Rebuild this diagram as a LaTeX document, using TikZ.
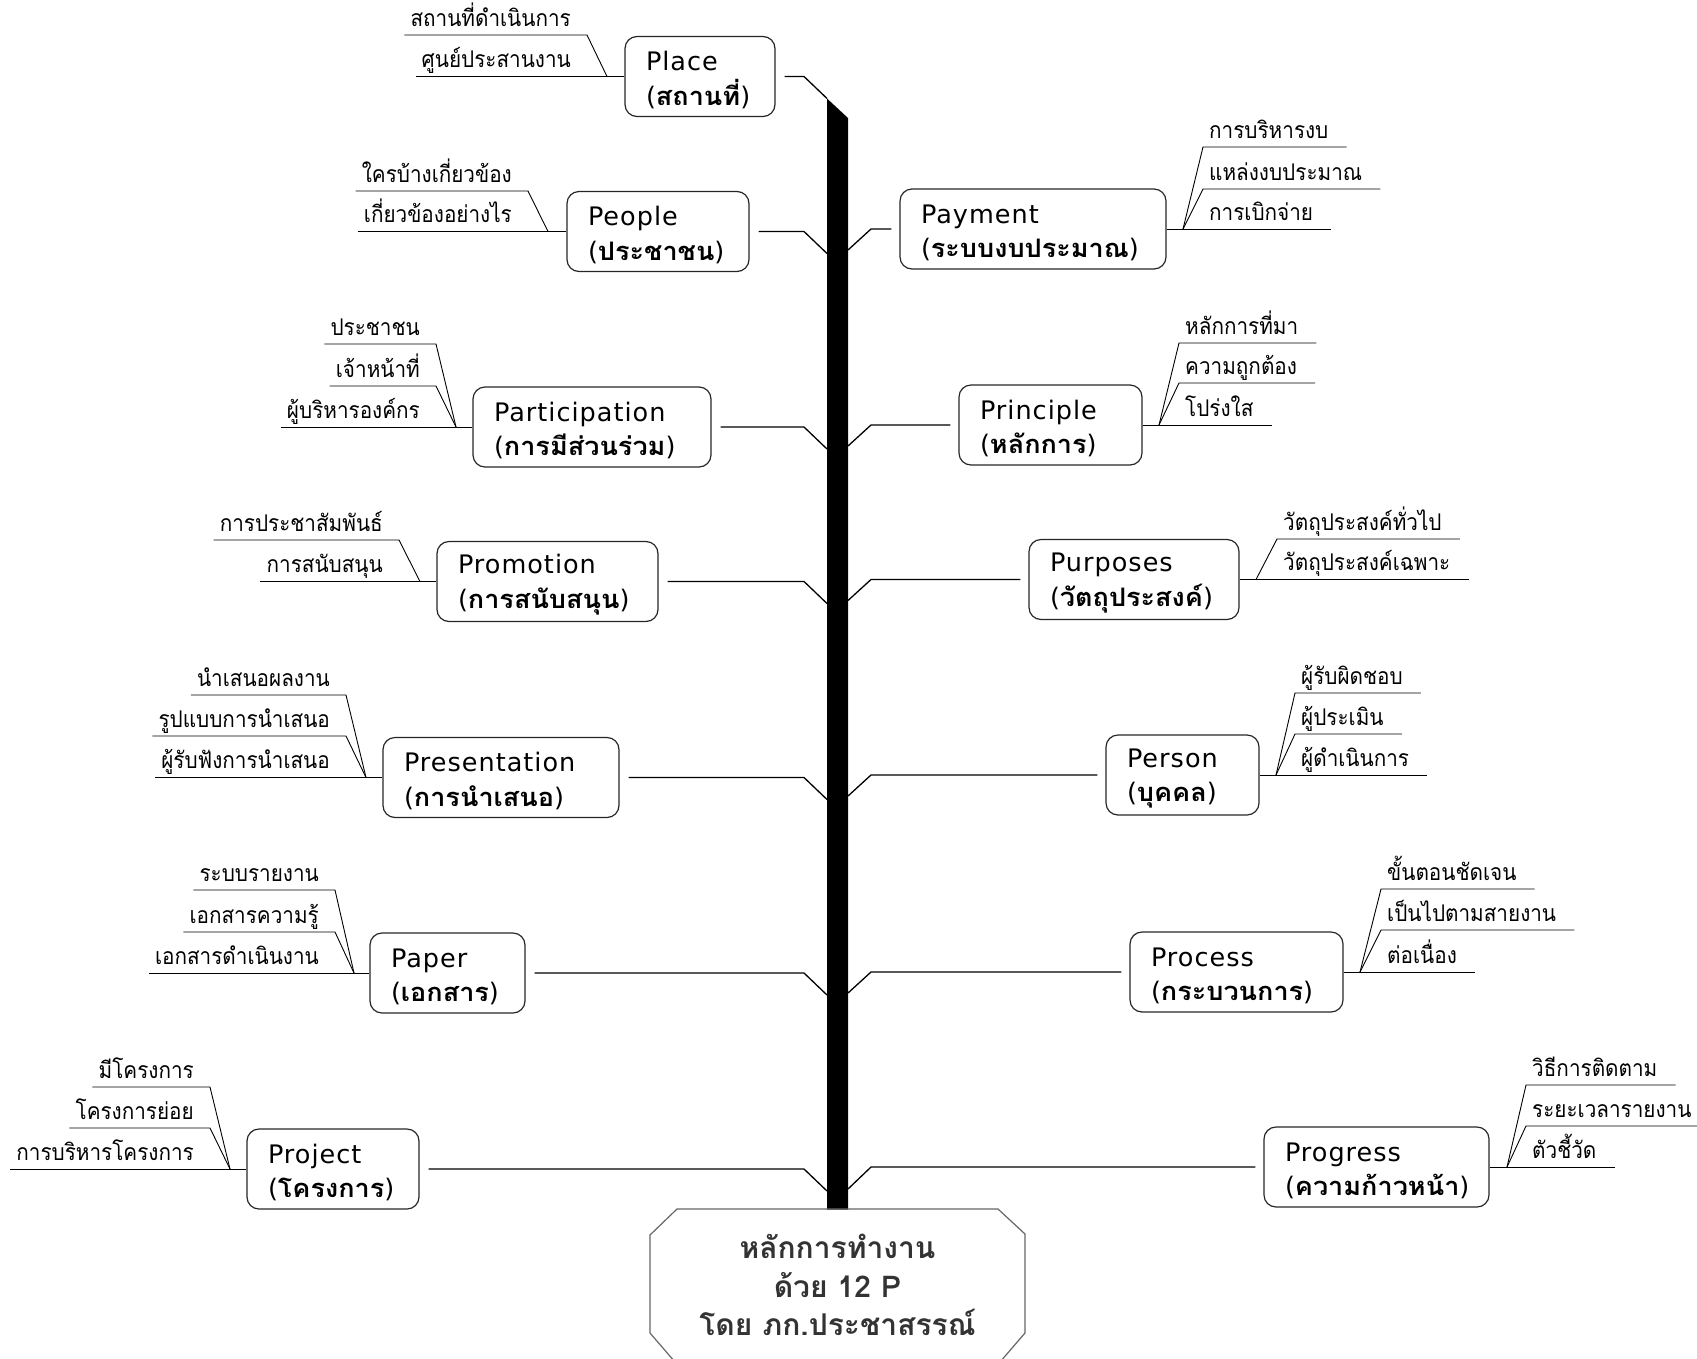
\documentclass[tikz,border=0pt]{standalone}
\usepackage{fontspec}
\setmainfont{DejaVu Sans}[LetterSpace=4]
\newfontfamily\thai[Script=Thai]{Loma}
\newfontfamily\thaibox[Script=Thai,FakeStretch=1.06]{Loma}
\newfontfamily\thaisub[Script=Thai,FakeStretch=0.9]{Loma}
\begin{document}
\begin{tikzpicture}[x=1pt,y=-1pt,
  mainbox/.style={draw=black!85, line width=1.2pt, rounded corners=12pt, minimum height=80pt,
    inner xsep=21pt, inner ysep=0pt, align=left, font=\fontsize{25.5}{34.5}\selectfont,
    execute at begin node=\rule{0pt}{26pt}},
  subL/.style={anchor=south east, inner sep=0pt, text depth=8.5pt,
    font=\thaisub\fontsize{23}{23}\selectfont,
    execute at begin node=\hspace*{6pt}, execute at end node=\hspace*{16pt}},
  subR/.style={anchor=south west, inner sep=0pt, text depth=8.5pt,
    font=\thaisub\fontsize{23}{23}\selectfont,
    execute at begin node=\hspace*{6pt}, execute at end node=\hspace*{18pt}},
  subline/.style={draw=black, line width=0.9pt},
  conn/.style={draw=black, line width=1.3pt}]
\newcommand\bth[1]{{\thaibox\bfseries\fontsize{25.5}{34.5}\selectfont #1}}
\useasboundingbox (0,0) rectangle (1697,1358);
% spine
\fill[black] (827,98.5) -- (848,118) -- (848,1209.5) -- (827,1209.5) -- cycle;
\coordinate (kL) at (804,0);
\coordinate (kR) at (871,0);
% center octagon
\draw[draw=black!60, line width=1.2pt] (677,1209) -- (998,1209) -- (1025,1234) -- (1025,1333) -- (1000,1362) -- (675,1362) -- (650,1333) -- (650,1235) -- cycle;
\node[align=center, text=black!80, font=\thai\bfseries\fontsize{30}{38.5}\selectfont] (ctr) at (837.5,1285) {หลักการทำงาน\\ด้วย 12 P\\โดย ภก.ประชาสรรณ์};

% ---------------- LEFT SIDE ----------------
% Place
\node[mainbox, text width=108pt] (place) at (700,76.5) {Place\\(\bth{สถานที่})};
\coordinate (sL1) at (827,98.5);
\draw[conn] ([xshift=9pt]place.east) -- (place.east -| kL) -- (sL1);
\node[subL] (pl1) at (587,35) {สถานที่ดำเนินการ};
\node[subL] (pl2) at (587,76.5) {ศูนย์ประสานงาน};
\coordinate (plJ) at (607,76.5);
\draw[subline] (pl1.south west) -- (pl1.south east) -- (plJ);
\draw[subline] (pl2.south west) -- (place.west);

% People
\node[mainbox, text width=140pt] (people) at (658,231.5) {People\\(\bth{ประชาชน})};
\coordinate (sL2) at (827,253.5);
\draw[conn] ([xshift=9pt]people.east) -- (people.east -| kL) -- (sL2);
\node[subL] (pe1) at (528,191) {ใครบ้างเกี่ยวข้อง};
\node[subL] (pe2) at (528,231.5) {เกี่ยวข้องอย่างไร};
\coordinate (peJ) at (548,231.5);
\draw[subline] (pe1.south west) -- (pe1.south east) -- (peJ);
\draw[subline] (pe2.south west) -- (people.west);

% Participation
\node[mainbox, text width=196pt] (partic) at (592,427) {Participation\\(\bth{การมีส่วนร่วม})};
\coordinate (sL3) at (827,449);
\draw[conn] ([xshift=9pt]partic.east) -- (partic.east -| kL) -- (sL3);
\node[subL] (pc1) at (436,344) {ประชาชน};
\node[subL] (pc2) at (436,386) {เจ้าหน้าที่};
\node[subL] (pc3) at (436,427) {ผู้บริหารองค์กร};
\coordinate (pcJ) at (456,427);
\draw[subline] (pc1.south west) -- (pc1.south east) -- (pcJ);
\draw[subline] (pc2.south west) -- (pc2.south east) -- (pcJ);
\draw[subline] (pc3.south west) -- (partic.west);

% Promotion
\node[mainbox, text width=179pt] (promo) at (547.5,581.5) {Promotion\\(\bth{การสนับสนุน})};
\coordinate (sL4) at (827,603.5);
\draw[conn] ([xshift=9pt]promo.east) -- (promo.east -| kL) -- (sL4);
\node[subL] (pm1) at (399,540) {การประชาสัมพันธ์};
\node[subL] (pm2) at (399,581.5) {การสนับสนุน};
\coordinate (pmJ) at (420,581.5);
\draw[subline] (pm1.south west) -- (pm1.south east) -- (pmJ);
\draw[subline] (pm2.south west) -- (promo.west);

% Presentation
\node[mainbox, text width=194pt] (present) at (501,777.5) {Presentation\\(\bth{การนำเสนอ})};
\coordinate (sL5) at (827,799.5);
\draw[conn] ([xshift=9pt]present.east) -- (present.east -| kL) -- (sL5);
\node[subL] (ps1) at (346,695) {นำเสนอผลงาน};
\node[subL] (ps2) at (346,736) {รูปแบบการนำเสนอ};
\node[subL] (ps3) at (346,777.5) {ผู้รับฟังการนำเสนอ};
\coordinate (psJ) at (366,777.5);
\draw[subline] (ps1.south west) -- (ps1.south east) -- (psJ);
\draw[subline] (ps2.south west) -- (ps2.south east) -- (psJ);
\draw[subline] (ps3.south west) -- (present.west);

% Paper
\node[mainbox, text width=113pt] (paper) at (447.5,973) {Paper\\(\bth{เอกสาร})};
\coordinate (sL6) at (827,995);
\draw[conn] ([xshift=9pt]paper.east) -- (paper.east -| kL) -- (sL6);
\node[subL] (pp1) at (335,890) {ระบบรายงาน};
\node[subL] (pp2) at (335,932) {เอกสารความรู้};
\node[subL] (pp3) at (335,973) {เอกสารดำเนินงาน};
\coordinate (ppJ) at (354,973);
\draw[subline] (pp1.south west) -- (pp1.south east) -- (ppJ);
\draw[subline] (pp2.south west) -- (pp2.south east) -- (ppJ);
\draw[subline] (pp3.south west) -- (paper.west);

% Project
\node[mainbox, text width=130pt] (project) at (333,1169) {Project\\(\bth{โครงการ})};
\coordinate (sL7) at (827,1191);
\draw[conn] ([xshift=9pt]project.east) -- (project.east -| kL) -- (sL7);
\node[subL] (pj1) at (210,1087) {มีโครงการ};
\node[subL] (pj2) at (210,1128) {โครงการย่อย};
\node[subL] (pj3) at (210,1169) {การบริหารโครงการ};
\coordinate (pjJ) at (230,1169);
\draw[subline] (pj1.south west) -- (pj1.south east) -- (pjJ);
\draw[subline] (pj2.south west) -- (pj2.south east) -- (pjJ);
\draw[subline] (pj3.south west) -- (project.west);

% ---------------- RIGHT SIDE ----------------
% Payment
\node[mainbox, text width=224pt] (payment) at (1033,229) {Payment\\(\bth{ระบบงบประมาณ})};
\coordinate (sR1) at (848,250);
\draw[conn] (sR1) -- (payment.west -| kR) -- ([xshift=-8pt]payment.west);
\node[subR] (py1) at (1203,147) {การบริหารงบ};
\node[subR] (py2) at (1203,189) {แหล่งงบประมาณ};
\node[subR] (py3) at (1203,229) {การเบิกจ่าย};
\coordinate (pyJ) at (1183,229);
\draw[subline] (py1.south east) -- (py1.south west) -- (pyJ);
\draw[subline] (py2.south east) -- (py2.south west) -- (pyJ);
\draw[subline] (payment.east) -- (py3.south east);

% Principle
\node[mainbox, text width=141pt] (princ) at (1050.5,425) {Principle\\(\bth{หลักการ})};
\coordinate (sR2) at (848,446);
\draw[conn] (sR2) -- (princ.west -| kR) -- ([xshift=-8pt]princ.west);
\node[subR] (pr1) at (1179,343) {หลักการที่มา};
\node[subR] (pr2) at (1179,383) {ความถูกต้อง};
\node[subR] (pr3) at (1179,425) {โปร่งใส};
\coordinate (prJ) at (1159,425);
\draw[subline] (pr1.south east) -- (pr1.south west) -- (prJ);
\draw[subline] (pr2.south east) -- (pr2.south west) -- (prJ);
\draw[subline] (princ.east) -- (pr3.south east);

% Purposes
\node[mainbox, text width=168pt] (purp) at (1134,579.5) {Purposes\\(\bth{วัตถุประสงค์})};
\coordinate (sR3) at (848,600.5);
\draw[conn] (sR3) -- (purp.west -| kR) -- ([xshift=-8pt]purp.west);
\node[subR] (pu1) at (1277,539) {วัตถุประสงค์ทั่วไป};
\node[subR] (pu2) at (1277,579.5) {วัตถุประสงค์เฉพาะ};
\coordinate (puJ) at (1256,579.5);
\draw[subline] (pu1.south east) -- (pu1.south west) -- (puJ);
\draw[subline] (purp.east) -- (pu2.south east);

% Person
\node[mainbox, text width=111pt] (person) at (1182.5,775) {Person\\(\bth{บุคคล})};
\coordinate (sR4) at (848,796);
\draw[conn] (sR4) -- (person.west -| kR) -- ([xshift=-8pt]person.west);
\node[subR] (pn1) at (1295,693) {ผู้รับผิดชอบ};
\node[subR] (pn2) at (1295,734) {ผู้ประเมิน};
\node[subR] (pn3) at (1295,775) {ผู้ดำเนินการ};
\coordinate (pnJ) at (1276,775);
\draw[subline] (pn1.south east) -- (pn1.south west) -- (pnJ);
\draw[subline] (pn2.south east) -- (pn2.south west) -- (pnJ);
\draw[subline] (person.east) -- (pn3.south east);

% Process
\node[mainbox, text width=171pt] (proc) at (1236.5,972) {Process\\(\bth{กระบวนการ})};
\coordinate (sR5) at (848,993);
\draw[conn] (sR5) -- (proc.west -| kR) -- ([xshift=-8pt]proc.west);
\node[subR] (po1) at (1381,889) {ขั้นตอนชัดเจน};
\node[subR] (po2) at (1381,930) {เป็นไปตามสายงาน};
\node[subR] (po3) at (1381,972) {ต่อเนื่อง};
\coordinate (poJ) at (1360,972);
\draw[subline] (po1.south east) -- (po1.south west) -- (poJ);
\draw[subline] (po2.south east) -- (po2.south west) -- (poJ);
\draw[subline] (proc.east) -- (po3.south east);

% Progress
\node[mainbox, text width=183pt] (progr) at (1376.5,1167) {Progress\\(\bth{ความก้าวหน้า})};
\coordinate (sR6) at (848,1189);
\draw[conn] (sR6) -- (progr.west -| kR) -- ([xshift=-8pt]progr.west);
\node[subR] (pg1) at (1526,1085) {วิธีการติดตาม};
\node[subR] (pg2) at (1526,1126) {ระยะเวลารายงาน};
\node[subR] (pg3) at (1526,1167) {ตัวชี้วัด};
\coordinate (pgJ) at (1507,1167);
\draw[subline] (pg1.south east) -- (pg1.south west) -- (pgJ);
\draw[subline] (pg2.south east) -- (pg2.south west) -- (pgJ);
\draw[subline] (progr.east) -- (pg3.south east);
\end{tikzpicture}
\end{document}
